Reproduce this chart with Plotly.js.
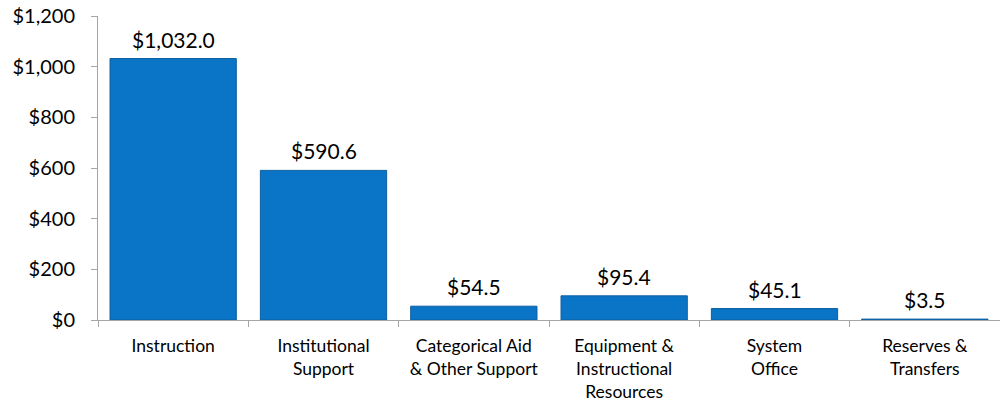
<!DOCTYPE html>
<html><head><meta charset="utf-8">
<script src="https://cdn.plot.ly/plotly-3.0.1.min.js"></script>
<style>html,body{margin:0;padding:0;background:#fff}#chart{width:1000px;height:406px}</style>
</head><body><div id="chart"></div>
<script>
const categories = ["Instruction", "Institutional<br>Support", "Categorical Aid<br>& Other Support", "Equipment &<br>Instructional<br>Resources", "System<br>Office", "Reserves &<br>Transfers"];
const values = [1032.0, 590.6, 54.5, 95.4, 45.1, 3.5];
const yTickVals = [0, 200, 400, 600, 800, 1000, 1200];

const font = "Lato, 'Open Sans', sans-serif";
const trace = {
  type: 'bar', x: categories, y: values,
  marker: {color: '#0A75C6', line: {color: '#0D5E9E', width: 1}},
  hoverinfo: 'none'
};
const annotations = categories.map((c, i) => ({
  x: c, y: values[i], xref: 'x', yref: 'y',
  text: '$' + values[i].toLocaleString('en-US', {minimumFractionDigits: 1, maximumFractionDigits: 1}),
  showarrow: false, yanchor: 'bottom', yshift: 5,
  font: {family: font, size: 21, color: '#000'}
}));
const layout = {
  width: 1000, height: 406,
  margin: {l: 98, r: 0, t: 16, b: 86},
  paper_bgcolor: '#fff', plot_bgcolor: '#fff',
  bargap: 0.16, showlegend: false,
  font: {family: font, color: '#000'},
  xaxis: {type: 'category', showline: true, linecolor: '#a6a6a6', linewidth: 1,
    ticks: 'outside', tickson: 'boundaries', ticklen: 6, tickcolor: '#a6a6a6',
    ticklabelstandoff: 10,
    tickfont: {family: font, size: 17.5, color: '#000'}, showgrid: false, zeroline: false},
  yaxis: {range: [0, 1200], tickvals: yTickVals, tickformat: '$,', showline: true,
    linecolor: '#a6a6a6', linewidth: 1, ticks: 'outside', ticklen: 6, tickcolor: '#a6a6a6',
    ticklabelstandoff: 12,
    tickfont: {family: font, size: 20, color: '#000'}, showgrid: false, zeroline: false},
  annotations: annotations
};
Plotly.newPlot('chart', [trace], layout, {displayModeBar: false, staticPlot: true});
</script></body></html>
